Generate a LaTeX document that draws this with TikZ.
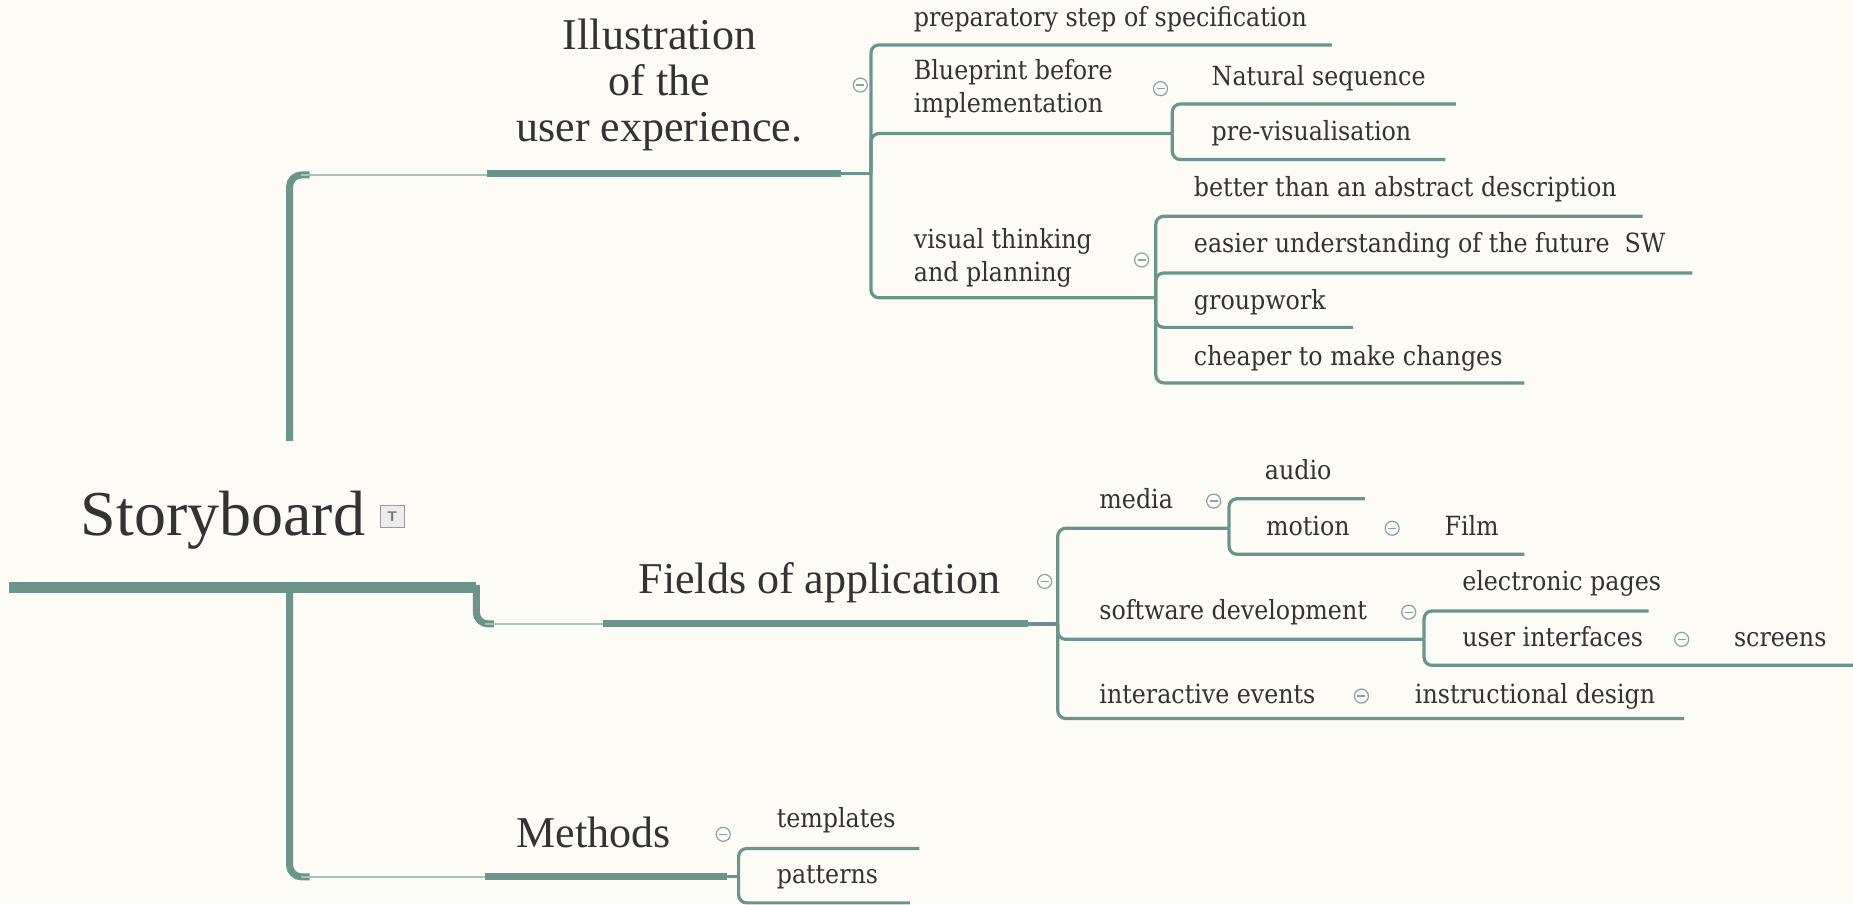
\documentclass[tikz,border=0pt]{standalone}
\usepackage{fontspec}
\setmainfont{Liberation Serif}
\newfontfamily\subfont{DejaVu Serif Condensed}
\definecolor{bgc}{HTML}{FCFBF5}
\definecolor{branch}{HTML}{6A958B}
\definecolor{lightbr}{HTML}{A8C2B9}
\definecolor{txt}{HTML}{333333}
\definecolor{iconc}{HTML}{8AA3A2}
\begin{document}
\begin{tikzpicture}[x=0.5909pt,y=-0.5909pt,
  maintxt/.style={font=\fontsize{22}{23}\selectfont, text=txt, inner sep=0pt, align=center, anchor=base},
  subtxt/.style={font=\subfont\fontsize{13.2}{16.3}\selectfont, text=txt, inner sep=0pt, anchor=base west, align=left},
  rootline/.style={draw=branch, line width=5.3pt},
  trunkline/.style={draw=branch, line width=3.5pt, rounded corners=6pt},
  lightline/.style={draw=lightbr, line width=1.2pt},
  topicline/.style={draw=branch, line width=3.5pt},
  subline/.style={draw=branch, line width=1.6pt, rounded corners=4pt},
  foldicon/.style={circle, draw=iconc, line width=0.6pt, minimum size=7pt, inner sep=0pt,
    path picture={\draw[iconc, line width=0.6pt] ([xshift=-2pt]path picture bounding box.center) -- ([xshift=2pt]path picture bounding box.center);}},
]
\fill[bgc] (0,0) rectangle (1568,765);
\useasboundingbox (0,0) rectangle (1568,765);

% ---------- root ----------
\node[font=\fontsize{32}{36}\selectfont, text=txt, inner sep=0pt, anchor=base west] (root) at (68,453) {Storyboard};
\node[draw=gray!80, fill=gray!15, line width=0.6pt, minimum width=12pt, minimum height=11pt, inner sep=0pt] (note) at (332,437)
  {\sffamily\bfseries\fontsize{7}{7}\selectfont\color{gray!90!black}T};
\draw[rootline] (8,497) -- (403,497);
\draw[trunkline] (403,495) -- (403,528) -- (418,528);

% trunk
\draw[trunkline] (245,373) -- (245,148) -- (262,148);
\draw[trunkline] (245,497) -- (245,742) -- (262,742);

% ---------- topic 1 ----------
\node[maintxt] (illu) at (558,120) {Illustration\\of the\\user experience.};
\draw[lightline] (255,148) -- (412,148);
\draw[topicline] (412,147) -- (712,147);
\draw[subline] (712,147) -- (737,147);
\node[foldicon] (f1) at (728,72) {};

\node[subtxt] (prep) at (773,22) {preparatory step of specification};
\node[subtxt] (blue) at (773,95) {Blueprint before\\implementation};
\node[subtxt] (vis) at (773,238) {visual thinking\\and planning};
\draw[subline] (737,147) -- (737,38) -- (1127,38);
\draw[subline] (737,147) -- (737,113) -- (992,113);
\draw[subline] (737,147) -- (737,252) -- (978,252);

\node[foldicon] (f2) at (982,75) {};
\node[subtxt] (nat) at (1025,72) {Natural sequence};
\node[subtxt] (prev) at (1025,119) {pre-visualisation};
\draw[subline] (992,113) -- (992,88) -- (1232,88);
\draw[subline] (992,113) -- (992,135) -- (1223,135);

\node[foldicon] (f3) at (966,220) {};
\node[subtxt] (bett) at (1010,166) {better than an abstract description};
\node[subtxt] (easi) at (1010,214) {easier understanding of the future~ SW};
\node[subtxt] (grp) at (1010,262) {groupwork};
\node[subtxt] (chea) at (1010,309) {cheaper to make changes};
\draw[subline] (978,252) -- (978,183) -- (1390,183);
\draw[subline] (978,252) -- (978,231) -- (1432,231);
\draw[subline] (978,252) -- (978,277) -- (1145,277);
\draw[subline] (978,252) -- (978,324) -- (1290,324);

% ---------- topic 2 ----------
\node[maintxt, anchor=base west] (fields) at (540,502) {Fields of application};
\draw[lightline] (410,528) -- (510,528);
\draw[topicline] (510,528) -- (870,528);
\draw[subline] (870,528) -- (895,528);
\node[foldicon] (f4) at (884,492) {};

\node[subtxt] (media) at (930,430) {media};
\node[subtxt] (soft) at (930,524) {software development};
\node[subtxt] (inter) at (930,595) {interactive events};
\draw[subline] (895,528) -- (895,447) -- (1040,447);
\draw[subline] (895,528) -- (895,541) -- (1205,541);
\draw[subline] (895,528) -- (895,608) -- (1425,608);

\node[foldicon] (f5) at (1027,424) {};
\node[subtxt] (audio) at (1070,406) {audio};
\node[subtxt] (motion) at (1071,453) {motion};
\node[foldicon] (f6) at (1178,447) {};
\node[subtxt] (film) at (1222,453) {Film};
\draw[subline] (1040,447) -- (1040,422) -- (1155,422);
\draw[subline] (1040,447) -- (1040,469) -- (1290,469);

\node[foldicon] (f7) at (1192,518) {};
\node[subtxt] (epag) at (1237,500) {electronic pages};
\node[subtxt] (uint) at (1237,547) {user interfaces};
\node[foldicon] (f8) at (1423,541) {};
\node[subtxt] (scr) at (1467,547) {screens};
\draw[subline] (1205,541) -- (1205,517) -- (1395,517);
\draw[subline] (1205,541) -- (1205,563) -- (1572,563);

\node[foldicon] (f9) at (1152,589) {};
\node[subtxt] (instr) at (1197,595) {instructional design};

% ---------- topic 3 ----------
\node[maintxt, anchor=base west] (meth) at (437,717) {Methods};
\draw[lightline] (255,742) -- (410,742);
\draw[topicline] (410,742) -- (615,742);
\draw[subline] (615,742) -- (625,742);
\node[foldicon] (f10) at (612,706) {};
\node[subtxt] (tmpl) at (657,700) {templates};
\node[subtxt] (patt) at (657,748) {patterns};
\draw[subline] (625,742) -- (625,718) -- (778,718);
\draw[subline] (625,742) -- (625,764) -- (770,764);
\end{tikzpicture}
\end{document}
